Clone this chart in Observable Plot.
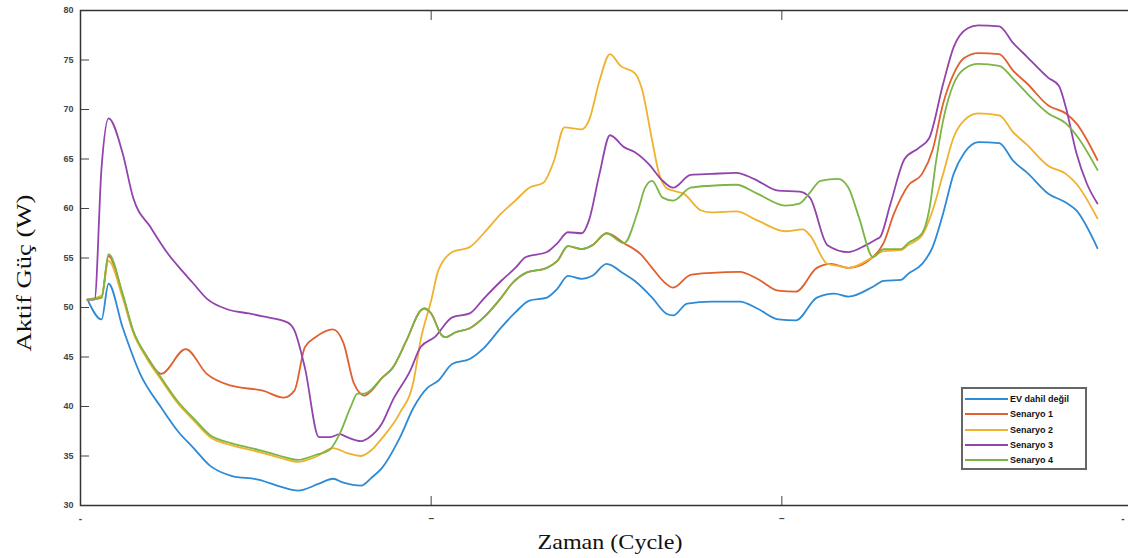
<!DOCTYPE html>
<html><head><meta charset="utf-8">
<script src="https://cdn.jsdelivr.net/npm/d3@7"></script>
<script src="https://cdn.jsdelivr.net/npm/@observablehq/plot@0.6"></script>
<style>
body{margin:0;background:#fff;}
#wrap{position:relative;width:1128px;height:558px;overflow:hidden;}
#legend{position:absolute;left:961px;top:387px;width:122px;height:79px;border:2px solid #666;background:#fff;box-sizing:content-box;}
.row{position:absolute;left:2px;height:12px;display:flex;align-items:center;font-family:"Liberation Sans",Arial,sans-serif;font-size:9px;font-weight:bold;color:#111;}
.row span.sw{display:inline-block;width:43px;height:0;border-top:2px solid;margin-right:2px;}
</style></head><body><div id="wrap"></div>
<script>
const seriesNames = ["EV dahil değil","Senaryo 1","Senaryo 2","Senaryo 3","Senaryo 4"];
const seriesColors = ["#2e8ad4","#e0602e","#efb12e","#9343ac","#7bb545"];

const evDahilDegil = [[2,50.8],[6,48.8],[8,52.4],[12,48.0],[17,43.3],[23,39.9],[28,37.4],[32,35.9],[37,34.0],[43,33.0],[51,32.6],[57,31.9],[62,31.5],[68,32.2],[72,32.7],[75,32.3],[80,32.0],[83,32.8],[86,33.8],[91,36.8],[95,39.9],[99,41.9],[102,42.6],[106,44.3],[111,44.8],[115,45.9],[120,48.0],[124,49.5],[128,50.7],[133,51.0],[136,51.9],[139,53.2],[143,52.9],[146,53.2],[150,54.4],[155,53.4],[158,52.7],[163,51.0],[167,49.4],[169,49.2],[173,50.4],[180,50.6],[188,50.6],[193,49.9],[199,48.8],[204,48.7],[210,51.0],[215,51.4],[219,51.1],[226,52.1],[229,52.7],[234,52.8],[236,53.4],[240,54.4],[243,56.1],[246,59.5],[249,63.5],[252,65.6],[256,66.7],[262,66.6],[266,64.8],[270,63.6],[276,61.5],[281,60.6],[284,59.8],[290,56.0]];

const senaryo1 = [[2,50.8],[6,51.0],[8,55.2],[12,51.3],[15,47.6],[19,45.0],[23,43.3],[30,45.8],[36,43.3],[43,42.1],[52,41.6],[58,40.9],[61,41.6],[64,46.0],[67,47.0],[72,47.8],[75,46.4],[78,42.3],[81,41.1],[83,41.6],[86,42.9],[89,43.9],[93,46.7],[97,49.7],[98,49.9],[100,49.4],[103,47.2],[104,47.0],[107,47.5],[111,47.9],[115,49.0],[120,51.0],[123,52.4],[127,53.5],[133,54.0],[136,54.7],[139,56.2],[143,55.9],[146,56.3],[150,57.5],[155,56.5],[160,55.3],[163,54.0],[167,52.4],[169,52.0],[174,53.3],[180,53.5],[188,53.6],[193,52.9],[199,51.7],[204,51.6],[210,54.0],[214,54.4],[219,54.0],[226,55.1],[229,56.5],[232,59.5],[236,62.3],[240,63.5],[243,65.9],[246,70.6],[249,73.6],[252,75.2],[256,75.7],[262,75.6],[266,73.9],[270,72.6],[276,70.4],[281,69.6],[284,68.6],[290,64.9]];

const senaryo2 = [[2,50.8],[6,51.2],[8,54.7],[12,51.0],[15,47.5],[19,44.8],[23,42.7],[28,40.2],[32,38.7],[37,36.9],[43,36.1],[51,35.4],[57,34.8],[62,34.4],[67,34.9],[72,35.8],[76,35.3],[80,35.0],[83,35.6],[86,36.8],[91,39.3],[95,42.6],[97,46.7],[100,50.7],[102,53.7],[106,55.6],[111,56.1],[115,57.5],[120,59.5],[124,60.8],[128,62.1],[132,62.6],[135,64.8],[138,68.2],[143,68.0],[145,68.9],[148,72.9],[151,75.6],[154,74.4],[158,73.7],[160,72.2],[163,66.9],[165,63.5],[167,62.1],[169,61.8],[172,61.5],[177,59.8],[180,59.6],[187,59.7],[193,58.8],[201,57.7],[206,57.9],[208,57.3],[213,54.4],[216,54.2],[219,54.0],[226,55.1],[229,55.7],[234,55.8],[236,56.3],[240,57.3],[243,59.8],[246,63.5],[249,67.2],[252,68.9],[256,69.6],[262,69.4],[266,67.7],[270,66.4],[276,64.3],[281,63.5],[284,62.5],[290,59.0]];

const senaryo3 = [[2,50.8],[4,50.8],[6,64.1],[8,69.1],[12,65.6],[15,61.1],[20,58.1],[25,55.4],[29,53.7],[32,52.5],[36,50.9],[42,49.8],[48,49.4],[52,49.1],[59,48.5],[61,47.7],[64,43.9],[68,36.9],[71,36.9],[74,37.2],[76,36.9],[80,36.5],[82,36.8],[86,38.3],[89,40.6],[94,43.6],[97,46.0],[101,47.0],[106,49.0],[111,49.4],[115,50.9],[120,52.7],[124,54.0],[127,55.1],[133,55.6],[136,56.5],[139,57.6],[143,57.5],[145,58.8],[148,63.5],[151,67.4],[155,66.2],[158,65.7],[162,64.5],[166,62.8],[169,62.1],[174,63.4],[180,63.5],[187,63.6],[192,63.0],[199,61.8],[205,61.7],[208,61.1],[213,56.3],[219,55.6],[224,56.3],[227,56.9],[228,57.1],[231,60.5],[235,65.0],[239,66.1],[242,67.1],[246,72.6],[249,76.3],[253,78.2],[256,78.5],[262,78.4],[266,76.7],[270,75.3],[276,73.2],[279,72.4],[281,70.2],[284,65.6],[287,62.5],[290,60.5]];

const senaryo4 = [[2,50.8],[6,51.0],[8,55.4],[12,51.4],[15,47.7],[19,45.0],[23,42.9],[28,40.4],[32,38.9],[37,37.1],[43,36.3],[51,35.6],[57,35.0],[62,34.6],[67,35.1],[71,35.6],[74,37.3],[77,39.9],[79,41.3],[81,41.3],[86,42.9],[89,43.9],[93,46.7],[97,49.7],[98,49.9],[100,49.4],[103,47.2],[104,47.0],[107,47.5],[111,47.9],[115,49.0],[120,51.0],[123,52.4],[127,53.5],[133,54.0],[136,54.7],[139,56.2],[143,55.9],[146,56.3],[150,57.5],[155,56.5],[159,59.8],[161,62.1],[163,62.8],[166,61.1],[169,60.8],[174,62.1],[180,62.3],[187,62.4],[193,61.5],[201,60.3],[205,60.5],[208,61.6],[211,62.8],[216,63.0],[219,62.1],[222,59.1],[226,55.1],[229,55.9],[234,55.9],[236,56.5],[240,57.5],[242,59.8],[244,64.8],[246,68.9],[249,72.6],[252,74.1],[256,74.6],[262,74.4],[266,73.1],[270,71.6],[276,69.6],[281,68.6],[284,67.4],[290,63.9]];

const yTicks = [30,35,40,45,50,55,60,65,70,75,80];
const xTicks = [0,100,200,300];
const xTickLabels = ["-","–","–","-"];
const xTitle = "Zaman (Cycle)";
const yTitle = "Aktif Güç (W)";

const allSeries = [evDahilDegil, senaryo1, senaryo2, senaryo3, senaryo4];
const rows = allSeries.flatMap((s, i) => s.map(([x, y]) => ({series: seriesNames[i], x, y})));

const chart = Plot.plot({
  width: 1128, height: 558,
  marginTop: 10, marginBottom: 53, marginLeft: 80, marginRight: -4,
  x: {domain: [0, 300]},
  y: {domain: [30, 80]},
  color: {domain: seriesNames, range: seriesColors},
  style: {background: "#fff", fontFamily: "'Liberation Sans', Arial, sans-serif", overflow: "hidden"},
  marks: [
    Plot.line(rows, {x: "x", y: "y", z: "series", stroke: "series", strokeWidth: 1.8, curve: "monotone-x"}),
    Plot.axisY(yTicks, {tickSize: -9, tickPadding: 16, label: null, fontSize: 9, fontWeight: "bold", color: "#444"}),
    Plot.axisX(xTicks, {tickSize: -9, tickPadding: 18, label: null, tickFormat: (d, i) => xTickLabels[i], fontSize: 10, fontWeight: "bold", color: "#444"}),
    Plot.axisX(xTicks, {anchor: "top", tickSize: -9, label: null, tickFormat: () => "", color: "#444"}),
    Plot.frame({stroke: "#333", strokeWidth: 1.5})
  ]
});

const svg = d3.select(chart);
// keep the last bottom x tick label inside the picture
const xl = svg.selectAll("g[aria-label='x-axis tick label'] text").nodes()
  .filter(n => n.textContent.trim() !== "");
if (xl.length) {
  d3.select(xl[xl.length - 1]).attr("text-anchor", "end").attr("dx", -8);
}
svg.append("text")
  .attr("x", 610).attr("y", 549)
  .attr("text-anchor", "middle")
  .attr("font-family", "'Liberation Serif','Times New Roman',serif")
  .attr("font-size", 22)
  .attr("fill", "#111")
  .attr("textLength", 145).attr("lengthAdjust", "spacingAndGlyphs")
  .text(xTitle);
svg.append("text")
  .attr("transform", "translate(31,273) rotate(-90)")
  .attr("text-anchor", "middle")
  .attr("font-family", "'Liberation Serif','Times New Roman',serif")
  .attr("font-size", 22)
  .attr("fill", "#111")
  .attr("textLength", 157).attr("lengthAdjust", "spacingAndGlyphs")
  .text(yTitle);

const wrap = document.getElementById("wrap");
wrap.appendChild(chart);

const legend = document.createElement("div");
legend.id = "legend";
seriesNames.forEach((name, i) => {
  const r = document.createElement("div");
  r.className = "row";
  r.style.top = (4 + i * 15.3) + "px";
  const sw = document.createElement("span");
  sw.className = "sw";
  sw.style.borderTopColor = seriesColors[i];
  r.appendChild(sw);
  const t = document.createElement("span");
  t.textContent = name;
  r.appendChild(t);
  legend.appendChild(r);
});
wrap.appendChild(legend);
</script>
</body></html>
